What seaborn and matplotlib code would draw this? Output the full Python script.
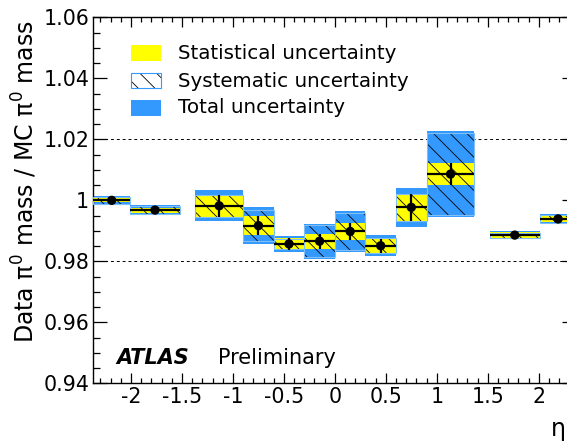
import numpy as np
import pandas as pd
import matplotlib
matplotlib.use('Agg')
from matplotlib import pyplot as plt
from matplotlib.patches import Rectangle
from matplotlib.ticker import MultipleLocator, FormatStrFormatter
import seaborn as sns

# eta bins (crack region 1.37-1.52 has no point)
eta_lo = [-2.37, -2.01, -1.37, -0.9, -0.6, -0.3, 0.0, 0.3, 0.6, 0.9, 1.52, 2.01]
eta_hi = [-2.01, -1.52, -0.9, -0.6, -0.3, 0.0, 0.3, 0.6, 0.9, 1.37, 2.01, 2.37]
ratio = [1.0000, 0.9968, 0.9982, 0.9917, 0.9857, 0.9866, 0.9898, 0.9851, 0.9977, 1.0086, 0.9886, 0.9939]
stat_err = [0.0007, 0.0008, 0.0036, 0.0031, 0.0019, 0.0024, 0.0027, 0.0023, 0.0044, 0.0037, 0.0011, 0.0009]
syst_err = [0.0011, 0.0014, 0.0036, 0.0051, 0.0017, 0.0052, 0.0062, 0.0025, 0.0045, 0.0135, 0.0008, 0.0012]
total_err = [0.0013, 0.0016, 0.0051, 0.0060, 0.0026, 0.0057, 0.0068, 0.0034, 0.0063, 0.0140, 0.0013, 0.0015]

xticks = [-2, -1.5, -1, -0.5, 0, 0.5, 1, 1.5, 2]
yticks = [0.94, 0.96, 0.98, 1.0, 1.02, 1.04, 1.06]
legend_labels = ['Statistical uncertainty', 'Systematic uncertainty', 'Total uncertainty']

YELLOW = '#ffff00'
BLUE = '#3399ff'
HATCH = '\\\\'

sns.set_theme(style='ticks')
plt.rcParams['font.family'] = ['DejaVu Sans']
plt.rcParams['axes.unicode_minus'] = False
plt.rcParams['hatch.linewidth'] = 0.6
plt.rcParams['mathtext.default'] = 'regular'

df = pd.DataFrame({'lo': eta_lo, 'hi': eta_hi, 'ratio': ratio,
                   'stat': stat_err, 'syst': syst_err, 'total': total_err})
df['eta'] = (df['lo'] + df['hi']) / 2
df['width'] = df['hi'] - df['lo']

fig = plt.figure(figsize=(5.67, 4.43), dpi=100)
ax = fig.add_axes([0.1646, 0.1348, 0.852, 0.826])

ax.axhline(1.02, color='black', lw=0.7, ls=(0, (3, 3)), zorder=1)
ax.axhline(0.98, color='black', lw=0.7, ls=(0, (3, 3)), zorder=1)

# total, stat, syst boxes
ax.bar(df['eta'], 2 * df['total'], bottom=df['ratio'] - df['total'], width=df['width'],
       color=BLUE, lw=0, zorder=2)
ax.bar(df['eta'], 2 * df['stat'], bottom=df['ratio'] - df['stat'], width=df['width'],
       color=YELLOW, lw=0, zorder=3)
ax.bar(df['eta'], 2 * df['syst'], bottom=df['ratio'] - df['syst'], width=df['width'],
       fill=False, hatch=HATCH, edgecolor='black', lw=0, zorder=4)
ax.bar(df['eta'], 2 * df['syst'], bottom=df['ratio'] - df['syst'], width=df['width'],
       fill=False, edgecolor='#7fbff5', lw=0.8, zorder=4)

ax.errorbar(df['eta'], df['ratio'], xerr=df['width'] / 2, yerr=df['stat'], fmt='none',
            ecolor='black', elinewidth=1.6, capsize=0, zorder=5)
sns.scatterplot(data=df, x='eta', y='ratio', color='black', s=45, edgecolor='none',
                zorder=6, ax=ax, legend=False)

ax.set_xlim(-2.37, 2.37)
ax.set_ylim(0.94, 1.06)
ax.set_xticks(xticks)
ax.set_yticks(yticks)
ax.xaxis.set_major_formatter(FormatStrFormatter('%g'))
ax.yaxis.set_major_formatter(FormatStrFormatter('%g'))
ax.xaxis.set_minor_locator(MultipleLocator(0.1))
ax.yaxis.set_minor_locator(MultipleLocator(0.005))
ax.tick_params(which='both', direction='in', top=True, right=True, width=0.9,
               color='black', labelsize=14.8, labelcolor='black')
ax.tick_params(axis='x', which='major', length=7, pad=3)
ax.tick_params(axis='x', which='minor', length=3.5)
ax.tick_params(axis='y', which='major', length=10, pad=3)
ax.tick_params(axis='y', which='minor', length=5)
for sp in ax.spines.values():
    sp.set_color('black')
    sp.set_linewidth(1)
ax.set_xlabel('')
ax.set_ylabel('')

# legend drawn by hand, ROOT style
ax.add_patch(Rectangle((0.0774, 0.8814), 0.0627, 0.0429, transform=ax.transAxes,
                       facecolor=YELLOW, lw=0, zorder=7))
ax.add_patch(Rectangle((0.0774, 0.8060), 0.0627, 0.0429, transform=ax.transAxes,
                       facecolor='white', hatch=HATCH, edgecolor='black', lw=0, zorder=7))
ax.add_patch(Rectangle((0.0774, 0.8060), 0.0627, 0.0429, transform=ax.transAxes,
                       fill=False, edgecolor=BLUE, lw=0.8, zorder=8))
ax.add_patch(Rectangle((0.0774, 0.7303), 0.0627, 0.0437, transform=ax.transAxes,
                       facecolor=BLUE, lw=0, zorder=7))
for lab, yb in zip(legend_labels, [0.885, 0.8104, 0.7377]):
    ax.text(0.176, yb, lab, transform=ax.transAxes, fontsize=14.3, va='baseline',
            ha='left', color='black')

ax.text(0.0484, 0.0519, 'ATLAS', transform=ax.transAxes, fontsize=15, fontweight='bold',
        fontstyle='italic', va='baseline', ha='left', color='black')
ax.text(0.2576, 0.0519, 'Preliminary', transform=ax.transAxes, fontsize=15,
        va='baseline', ha='left', color='black')

fig.text(25 / 567, 0.590, r'Data $\pi^{0}$ mass / MC $\pi^{0}$ mass', rotation=90,
         ha='center', va='center', fontsize=17, color='black')
fig.text(0.996, 0.028, r'$\eta$', ha='right', va='center', fontsize=17, color='black')

fig.savefig('out.png', dpi=100)
